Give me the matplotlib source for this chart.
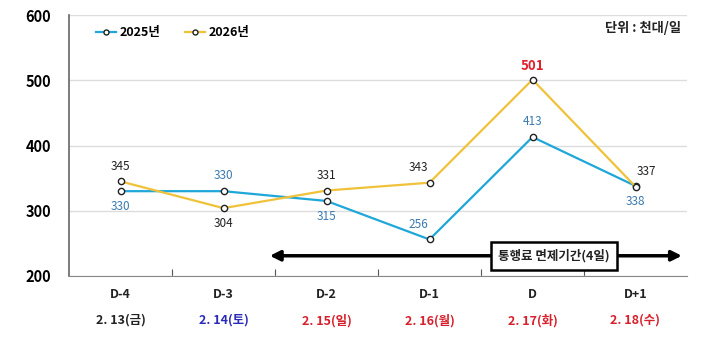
import matplotlib
matplotlib.use("Agg")
import matplotlib.pyplot as plt

plt.rcParams['font.family'] = ['Noto Sans CJK KR', 'DejaVu Sans']

# data
days = ['D-4', 'D-3', 'D-2', 'D-1', 'D', 'D+1']
dates = ['2. 13(금)', '2. 14(토)', '2. 15(일)', '2. 16(월)', '2. 17(화)', '2. 18(수)']
date_colors = ['#222222', '#2a2ab8', '#d8202c', '#d8202c', '#d8202c', '#d8202c']
y2025 = [330, 330, 315, 256, 413, 338]
y2026 = [345, 304, 331, 343, 501, 337]
yticks = [200, 300, 400, 500, 600]

# label offsets in points (dx, dy)
off2025 = [(0, -11), (0, 11), (0, -11), (-8, 11), (0, 11), (0, -11)]
off2026 = [(0, 11), (0, -11), (0, 11), (-8, 11), (0, 10), (8, 11)]

fig = plt.figure(figsize=(7.2, 3.51), dpi=100)
ax = fig.add_axes([69 / 720, 1 - 276 / 351, 618 / 720, 261 / 351])

x = [i + 0.5 for i in range(len(days))]
c25 = '#1ea7d8'
c26 = '#f0c23a'
ax.plot(x, y2025, color=c25, lw=1.6, marker='o', ms=4.5, mfc='white',
        mec='#222222', mew=1.0, label='2025년', zorder=3)
ax.plot(x, y2026, color=c26, lw=1.6, marker='o', ms=4.5, mfc='white',
        mec='#222222', mew=1.0, label='2026년', zorder=3)

for xi, v, (dx, dy) in zip(x, y2025, off2025):
    ax.annotate(str(v), (xi, v), xytext=(dx, dy), textcoords='offset points',
                ha='center', va='center', fontsize=8.5, color='#3a7ab2')
for i, (xi, v, (dx, dy)) in enumerate(zip(x, y2026, off2026)):
    if v == max(y2026):
        ax.annotate(str(v), (xi, v), xytext=(dx, dy), textcoords='offset points',
                    ha='center', va='center', fontsize=9.5, color='#e0202a',
                    fontweight='bold')
    else:
        ax.annotate(str(v), (xi, v), xytext=(dx, dy), textcoords='offset points',
                    ha='center', va='center', fontsize=8.5, color='#222222')

ax.set_xlim(0, 6)
ax.set_ylim(200, 600)
ax.set_yticks(yticks)
ax.set_yticklabels([str(t) for t in yticks], fontsize=10.5, fontweight='bold')
ax.tick_params(axis='y', length=0, pad=13)
ax.set_xticks([1, 2, 3, 4, 5])
ax.set_xticklabels([])
ax.tick_params(axis='x', direction='in', length=5, color='#555555')
ax.grid(axis='y', color='#dddddd', lw=1)
ax.set_axisbelow(True)
for s in ['top', 'right']:
    ax.spines[s].set_visible(False)
ax.spines['left'].set_color('#666666')
ax.spines['bottom'].set_color('#888888')
ax.spines['left'].set_linewidth(1.2)

for xi, d, dt, c in zip(x, days, dates, date_colors):
    ax.text(xi, -0.07, d, transform=ax.get_xaxis_transform(), ha='center',
            va='center', fontsize=9, fontweight='bold', color='#222222')
    ax.text(xi, -0.17, dt, transform=ax.get_xaxis_transform(), ha='center',
            va='center', fontsize=9, fontweight='bold', color=c)

# free toll period arrow
ay = 231
ax.annotate('', xy=(5.95, ay), xytext=(1.95, ay),
            arrowprops=dict(arrowstyle='<|-|>', color='black', lw=2.5,
                            mutation_scale=15, shrinkA=0, shrinkB=0))
ax.text(4.71, ay, '통행료 면제기간(4일)', ha='center', va='center', fontsize=9,
        fontweight='bold', color='#222222', zorder=5,
        bbox=dict(boxstyle='square,pad=0.6', fc='white', ec='black', lw=1.8))

ax.legend(loc='upper left', bbox_to_anchor=(0.025, 1.0), ncol=2, frameon=False,
          prop={'weight': 'bold', 'size': 9}, handlelength=1.6,
          columnspacing=2.0, handletextpad=0.3, markerscale=0.8)
ax.text(0.99, 0.95, '단위 : 천대/일', transform=ax.transAxes, ha='right',
        va='center', fontsize=9.5, fontweight='bold', color='#222222')

fig.savefig('out.png', dpi=100)
